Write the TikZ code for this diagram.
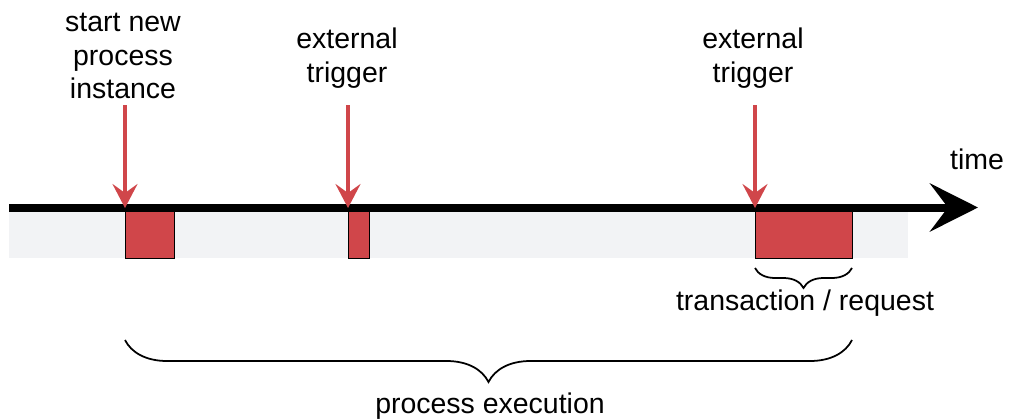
\documentclass[tikz,border=0pt]{standalone}
\usepackage{fontspec}
\setmainfont{Liberation Sans}
\usetikzlibrary{arrows.meta, decorations.pathreplacing, positioning}

\definecolor{slotred}{RGB}{208,70,74}
\definecolor{bandgrey}{RGB}{242,243,245}

\begin{document}
\begin{tikzpicture}[
  x=0.03cm, y=-0.03cm,
  lbl/.style={font=\fontsize{24.3}{28.6}\selectfont, align=center, inner sep=0pt},
  slot/.style={rectangle, draw=black, line width=1.2pt, fill=slotred, minimum height=1.5cm, inner sep=0pt, anchor=north west},
  trig/.style={draw=slotred, line width=2.8pt, -{Stealth[length=0.72cm, width=0.75cm, inset=0.27cm]}},
  axis/.style={line width=0.24cm, -{Stealth[length=1.44cm, width=1.44cm, inset=0.54cm]}},
  brc/.style={decorate, decoration={brace, mirror, amplitude=#1}, line width=1.5pt},
]
\useasboundingbox (0,0) rectangle (1009,419);

% grey band under the time line
\fill[bandgrey] (9,212) rectangle (908,258);

% busy slots
\node[slot, minimum width=1.47cm] (b1) at (125,208) {};
\node[slot, minimum width=0.63cm] (b2) at (348,208) {};
\node[slot, minimum width=2.91cm] (b3) at (755,208) {};

% time axis
\coordinate (t0) at (9,207.5);
\coordinate (t1) at (978,207.5);
\draw[axis] (t0) -- (t1);
\node[lbl, anchor=base] (time) at (977,169) {time};

% events
\node[lbl, anchor=north] (start) at (123,13) {start new\\process\\instance};
\node[lbl, anchor=north] (ext1)  at (347,28) {external\\trigger};
\node[lbl, anchor=north] (ext2)  at (753,28) {external\\trigger};
\coordinate (a1) at (125,105);
\coordinate (a2) at (348,105);
\coordinate (a3) at (755,105);
\draw[trig] (a1) -- (b1.north west);
\draw[trig] (a2) -- (b2.north west);
\draw[trig] (a3) -- (b3.north west);

% braces
\coordinate (tr1) at (755,268);
\coordinate (tr2) at (852,268);
\draw[brc=0.6cm] (tr1) -- (tr2);
\node[lbl, anchor=base] (trans) at (805,310) {transaction / request};

\coordinate (pe1) at (125,340);
\coordinate (pe2) at (852,340);
\draw[brc=1.26cm] (pe1) -- (pe2);
\node[lbl, anchor=base] (exec) at (490,413) {process execution};
\end{tikzpicture}
\end{document}
